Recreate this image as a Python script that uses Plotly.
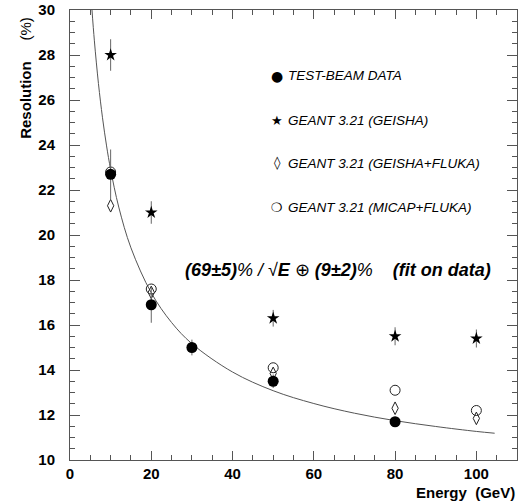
import plotly.graph_objects as go

# ---- data ----
tb_energy = [10, 20, 30, 50, 80]
tb_res = [22.7, 16.9, 15.0, 13.5, 11.7]
tb_err = [1.1, 0.8, 0.35, 0.3, 0.2]

sim_energy = [10, 20, 50, 80, 100]
geisha_res = [28.0, 21.0, 16.3, 15.5, 15.4]
geisha_err = [0.7, 0.5, 0.37, 0.4, 0.4]
gf_res = [21.3, 17.45, 13.85, 12.3, 11.85]
mf_res = [22.8, 17.6, 14.1, 13.1, 12.2]

# fit curve
fit_energy = [5.4, 6, 7, 8, 9, 10, 12, 15, 20, 25, 30, 40, 50, 60, 70, 80, 90, 100, 104.5]
fit_res = [30.03, 28.63, 26.73, 25.21, 23.96, 22.91, 21.24, 19.43, 17.43, 16.11,
           15.17, 13.91, 13.08, 12.51, 12.08, 11.75, 11.49, 11.27, 11.19]

x_ticks = [0, 20, 40, 60, 80, 100]
y_ticks = [10, 12, 14, 16, 18, 20, 22, 24, 26, 28, 30]

FONT = "Liberation Sans, Arial, Helvetica, sans-serif"
AX = "#555555"

fig = go.Figure()

fig.add_trace(go.Scatter(x=fit_energy, y=fit_res, mode="lines",
                         line=dict(color="#555555", width=1, shape="spline"),
                         hoverinfo="skip"))

fig.add_trace(go.Scatter(x=sim_energy, y=mf_res, mode="markers",
                         marker=dict(symbol="circle-open", size=10, color="#222222",
                                     line=dict(width=1, color="#222222"))))
fig.add_trace(go.Scatter(x=sim_energy, y=gf_res, mode="markers",
                         marker=dict(symbol="diamond-tall-open", size=9, color="#222222",
                                     line=dict(width=1, color="#222222"))))
fig.add_trace(go.Scatter(x=sim_energy, y=geisha_res, mode="markers",
                         error_y=dict(type="data", array=geisha_err, color="#666666",
                                      thickness=1, width=0),
                         marker=dict(symbol="star", size=9.5, color="black",
                                     line=dict(width=0))))
fig.add_trace(go.Scatter(x=tb_energy, y=tb_res, mode="markers",
                         error_y=dict(type="data", array=tb_err, color="#666666",
                                      thickness=1, width=0),
                         marker=dict(symbol="circle", size=11, color="black",
                                     line=dict(width=0))))

axis_common = dict(
    showgrid=False, zeroline=False, showline=True, linecolor=AX, linewidth=1,
    mirror="ticks", ticks="inside", tickcolor=AX, tickwidth=1,
    tickfont=dict(family=FONT, size=15, color="black", weight="bold"),
)

fig.update_xaxes(range=[0, 110], tickvals=x_ticks, ticklen=9,
                 minor=dict(dtick=5, tick0=0, ticks="inside", ticklen=5, tickcolor=AX),
                 ticklabelstandoff=0, **axis_common)
fig.update_yaxes(range=[10, 30], tickvals=y_ticks, ticklen=10,
                 minor=dict(dtick=0.5, tick0=10, ticks="inside", ticklen=5, tickcolor=AX),
                 ticklabelstandoff=11, **axis_common)

legend_rows = [
    ("●", "TEST-BEAM DATA", 27.07, 14),
    ("★", "GEANT 3.21 (GEISHA)", 25.1, 13),
    ("◊", "GEANT 3.21 (GEISHA+FLUKA)", 23.2, 13),
    ("❍", "GEANT 3.21 (MICAP+FLUKA)", 21.24, 13),
]
annotations = []
for sym, label, yv, ssz in legend_rows:
    annotations.append(dict(x=51.0, y=yv, xref="x", yref="y", text=sym, showarrow=False,
                            xanchor="center", yanchor="middle",
                            font=dict(family="DejaVu Sans", size=ssz, color="black")))
    annotations.append(dict(x=53.2, y=yv, xref="x", yref="y", text="<i>" + label + "</i>",
                            showarrow=False, xanchor="left", yanchor="middle",
                            font=dict(family=FONT, size=13.5, color="black")))

annotations.append(dict(
    x=66.0, y=18.45, xref="x", yref="y", showarrow=False, xanchor="center", yanchor="middle",
    text="<b><i>(69±5)</i></b><i>% / √</i><b><i>E</i></b> ⊕ <b><i>(9±2)</i></b><i>%</i>"
         "&nbsp;&nbsp;&nbsp;&nbsp;<b><i>(fit on data)</i></b>",
    font=dict(family=FONT, size=18, color="black")))

annotations.append(dict(
    x=-0.1, y=0.99, xref="paper", yref="paper", showarrow=False, textangle=-90,
    xanchor="center", yanchor="top",
    text="<b>Resolution</b>&nbsp;&nbsp;&nbsp;&nbsp;&nbsp;(%)",
    font=dict(family=FONT, size=15, color="black")))

annotations.append(dict(
    x=1.0, y=-0.072, xref="paper", yref="paper", showarrow=False,
    xanchor="right", yanchor="middle",
    text="<b>Energy&nbsp;&nbsp;(GeV)</b>",
    font=dict(family=FONT, size=15, color="black")))

fig.update_layout(
    width=518, height=502,
    margin=dict(l=70, r=1, t=10, b=42),
    paper_bgcolor="white", plot_bgcolor="white",
    showlegend=False,
    annotations=annotations,
)

fig.write_html(
    "out.html",
    config={"displayModeBar": False},
    post_script="document.body.style.margin='0';document.body.style.overflow='hidden';",
)
